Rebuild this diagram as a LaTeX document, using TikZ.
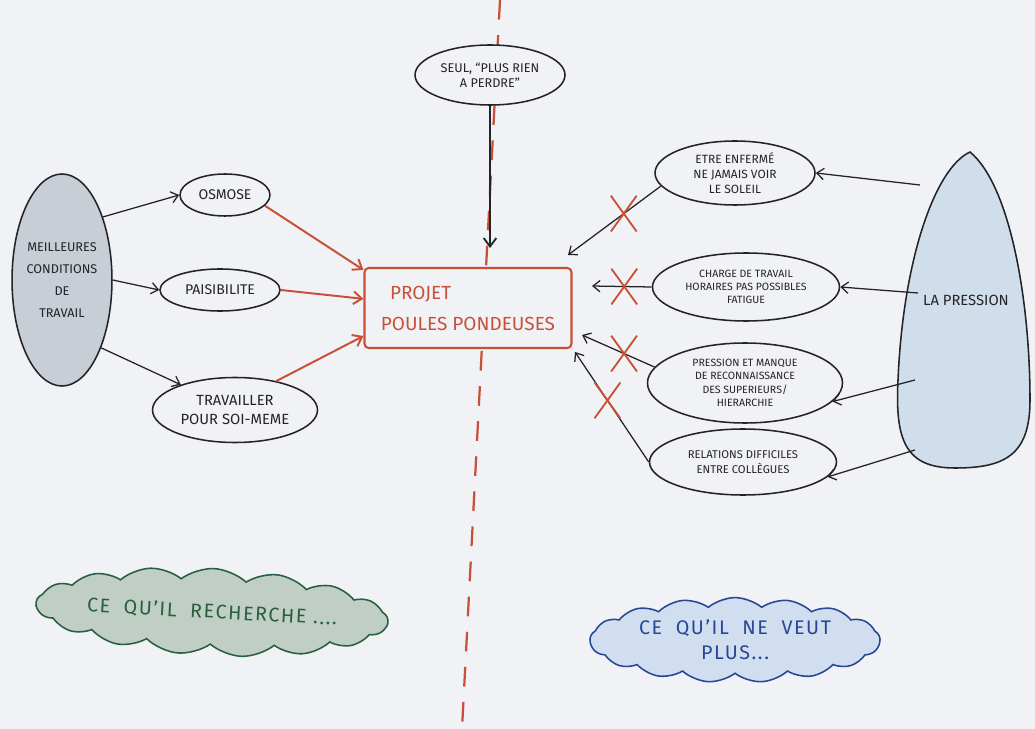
\documentclass[tikz,border=0pt]{standalone}
\usepackage{fontspec}
\setmainfont{Fira Sans}
\usetikzlibrary{shapes.geometric,shapes.symbols,shapes.misc,arrows.meta}
\definecolor{paper}{RGB}{241,242,246}
\definecolor{redink}{RGB}{200,80,55}
\definecolor{ink}{RGB}{35,35,40}
\definecolor{leftfill}{RGB}{200,206,214}
\definecolor{rightfill}{RGB}{208,222,236}
\definecolor{greenink}{RGB}{40,95,60}
\definecolor{greenfill}{RGB}{192,206,198}
\definecolor{blueink}{RGB}{40,70,150}
\definecolor{bluefill}{RGB}{208,222,240}
\begin{document}
\begin{tikzpicture}[x=0.25mm,y=-0.25mm,
  bub/.style={ellipse,draw=ink,line width=1.1pt,fill=paper,inner sep=0pt,align=center,text=ink},
  arr/.style={draw=ink,line width=0.9pt,-{Straight Barb[length=5pt,width=8pt]}},
  redarr/.style={draw=redink,line width=1.4pt,-{Straight Barb[length=6pt,width=9pt]}},
  xmark/.style={cross out,draw=redink,line width=1.3pt,minimum width=6mm,minimum height=8.5mm,inner sep=0pt},
  cloudbox/.style={cloud,cloud puffs=17,cloud puff arc=80,aspect=4,line width=1.1pt,inner sep=0pt,align=center}]
\fill[paper] (0,0) rectangle (1035,729);
\useasboundingbox (0,0) rectangle (1035,729);
% dividing line
\coordinate (dtop) at (500,0);
\coordinate (dbot) at (462,729);
\draw[redink,line width=1.6pt,dash pattern=on 14pt off 11pt] (dtop) -- (dbot);
% top bubble
\node[bub,minimum width=37.5mm,minimum height=15mm,font=\fontsize{9}{11}\selectfont] (seul) at (490,75) {SEUL, “PLUS RIEN\\A PERDRE”};
% left side
\node[bub,fill=leftfill,minimum width=22.5mm,minimum height=53mm,font=\fontsize{9}{15.5}\selectfont] (L) at (62,280) {MEILLEURES\\CONDITIONS\\DE\\TRAVAIL};
\node[bub,minimum width=22.5mm,minimum height=10.5mm,font=\fontsize{10}{12}\selectfont] (osm) at (225,195) {OSMOSE};
\node[bub,minimum width=30mm,minimum height=10.5mm,font=\fontsize{10}{12}\selectfont] (pais) at (220,290) {PAISIBILITE};
\node[bub,minimum width=41.25mm,minimum height=16.25mm,font=\fontsize{10.5}{13}\selectfont] (trav) at (235,410) {TRAVAILLER\\POUR SOI-MEME};
% center
\node[draw=redink,fill=paper,line width=1.5pt,rounded corners=3pt,minimum width=51.75mm,minimum height=20mm,align=center,text=redink,font=\fontsize{13.5}{22}\selectfont] (proj) at (468,308) {PROJET\hspace*{5em}\\POULES PONDEUSES};
% right side
\node[bub,minimum width=40mm,minimum height=16mm,font=\fontsize{8.5}{10.5}\selectfont] (etre) at (735,173) {ETRE ENFERMÉ\\NE JAMAIS VOIR\\LE SOLEIL};
\node[bub,minimum width=46.75mm,minimum height=17mm,font=\fontsize{7.5}{9.5}\selectfont] (charge) at (746,287) {CHARGE DE TRAVAIL\\HORAIRES PAS POSSIBLES\\FATIGUE};
\node[bub,minimum width=48.75mm,minimum height=20mm,font=\fontsize{7.5}{9.5}\selectfont] (press) at (745,383) {PRESSION ET MANQUE\\DE RECONNAISSANCE\\DES SUPERIEURS/\\HIERARCHIE};
\node[bub,minimum width=46.75mm,minimum height=16.5mm,font=\fontsize{8}{11}\selectfont] (rel) at (743,462) {RELATIONS DIFFICILES\\ENTRE COLLÈGUES};
% la pression shape
\draw[ink,line width=1.1pt,fill=rightfill] (970,152) .. controls (935,168) and (903,260) .. (898,380) .. controls (895,440) and (905,468) .. (955,468) .. controls (1005,468) and (1030,455) .. (1030,400) .. controls (1030,300) and (1010,185) .. (970,152) -- cycle;
\node[text=ink,font=\fontsize{10.5}{13}\selectfont] (lap) at (966,300) {LA PRESSION};
\coordinate (p1) at (920,185);
\coordinate (p2) at (918,293);
\coordinate (p3) at (915,380);
\coordinate (p4) at (915,450);
% clouds
\node[cloudbox,aspect=5.5,draw=greenink,fill=greenfill,text=greenink,minimum width=86mm,minimum height=15mm,rotate=-3,font=\fontsize{14}{16}\selectfont\addfontfeatures{LetterSpace=8}] (cl1) at (212,612) {CE\ \ QU'IL\ \ RECHERCHE\ ....};
\node[cloudbox,draw=blueink,fill=bluefill,text=blueink,minimum width=72.5mm,minimum height=19mm,font=\fontsize{14}{18}\selectfont\addfontfeatures{LetterSpace=8}] (cl2) at (735,640) {CE\ \ QU'IL\ \ NE\ \ VEUT\\PLUS...};
% arrows left
\draw[arr] (L.57) -- (osm.west);
\draw[arr] (L.0) -- (pais.west);
\draw[arr] (L.-60) -- (trav.155);
\draw[redarr] (osm.-15) -- (proj.160);
\draw[redarr] (pais.east) -- (proj.175);
\draw[redarr] (trav.35) -- (proj.195);
% top arrow
\coordinate (tipS) at (490,248);
\draw[arr,line width=1.3pt,-{Straight Barb[length=6pt,width=9pt]}] (seul.south) -- (tipS);
% right arrows to project
\coordinate (t1) at (568,255);
\coordinate (t2) at (592,286);
\coordinate (t3) at (582,335);
\coordinate (t4) at (575,352);
\draw[arr] (etre.190) -- node[pos=0.4,xmark]{} (t1);
\draw[arr] (charge.west) -- node[pos=0.46,xmark]{} (t2);
\draw[arr] (press.170) -- node[pos=0.42,xmark]{} (t3);
\draw[arr] (rel.west) -- node[pos=0.56,xmark]{} (t4);
% pression arrows
\draw[arr] (p1) -- (etre.east);
\draw[arr] (p2) -- (charge.east);
\draw[arr] (p3) -- (press.-12);
\draw[arr] (p4) -- (rel.-10);
\end{tikzpicture}
\end{document}
